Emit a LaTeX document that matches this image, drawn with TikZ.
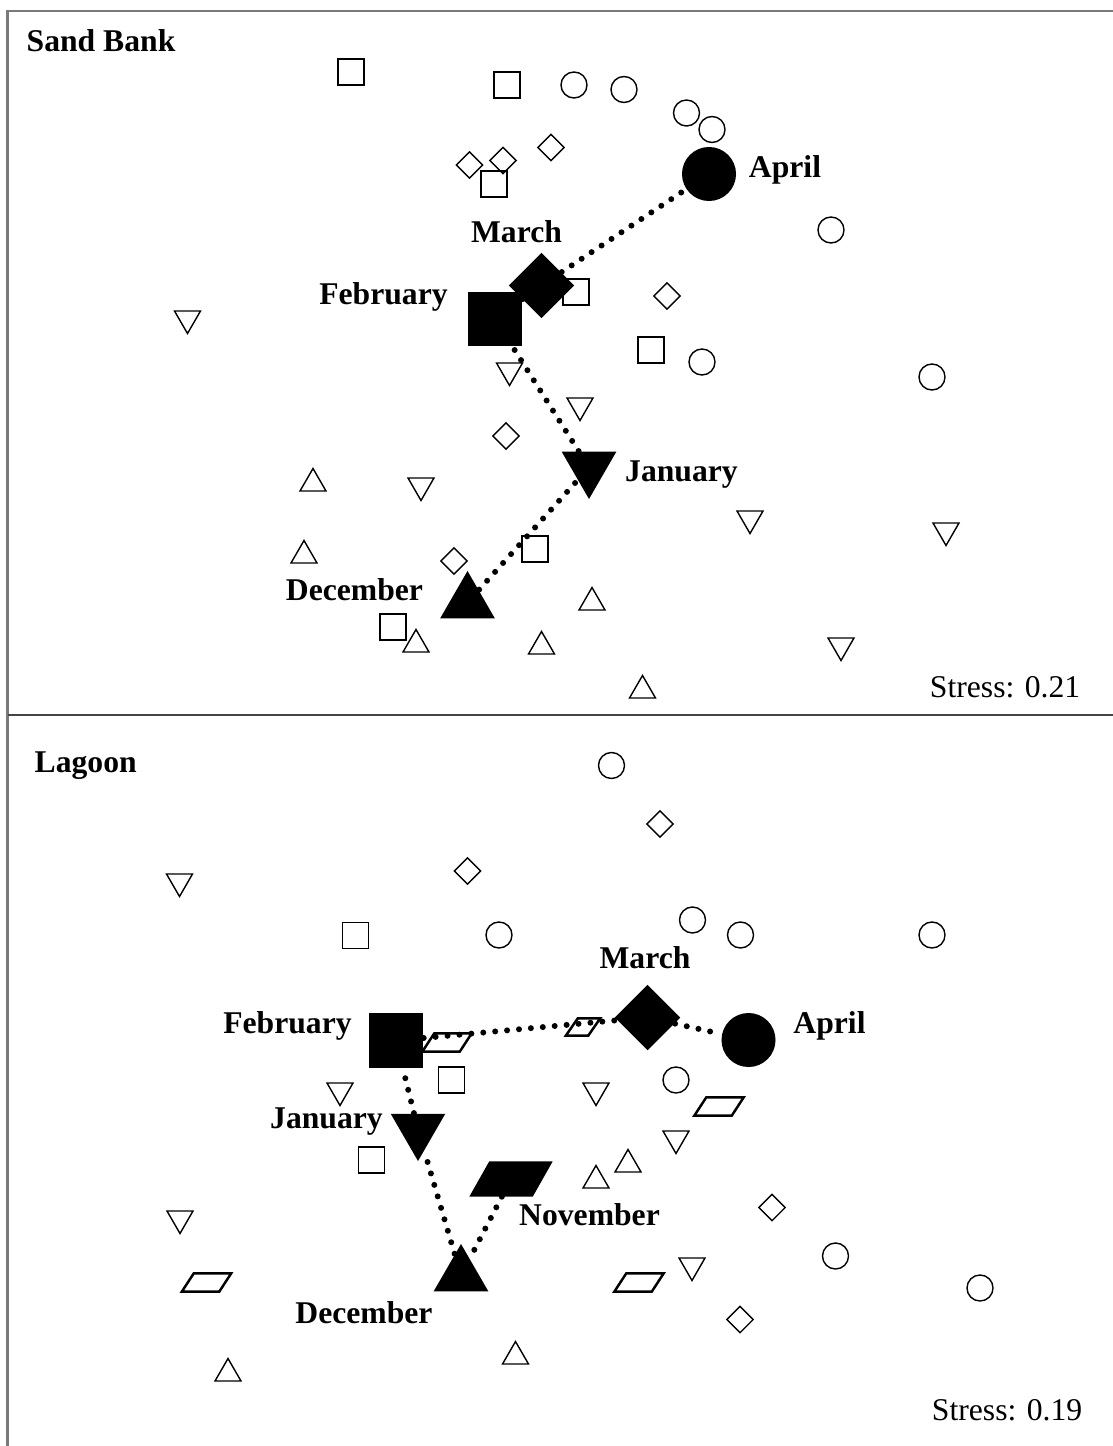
\documentclass[tikz,border=0pt]{standalone}
\usepackage{fontspec}
\setmainfont{Liberation Serif}
\usetikzlibrary{shapes.geometric}
\definecolor{framegray}{HTML}{7A7A7A}
\definecolor{rulegray}{HTML}{444444}

\begin{document}
\begin{tikzpicture}[x=0.01cm,y=-0.01cm,
  opsq/.style={rectangle,draw,line width=.4pt,minimum size=.26cm,inner sep=0pt},
  opci/.style={circle,draw,line width=.4pt,minimum size=.26cm,inner sep=0pt},
  opdi/.style={diamond,draw,line width=.4pt,minimum size=.27cm,inner sep=0pt},
  optu/.style={regular polygon,regular polygon sides=3,draw,line width=.4pt,minimum size=.30cm,inner sep=0pt},
  optd/.style={optu,shape border rotate=180},
  paral/.style 2 args={rectangle,inner sep=0pt,append after command={\pgfextra{\pgfinterruptpath
    \path[#2] (\tikzlastnode.south west) -- ([xshift=-#1]\tikzlastnode.south east)
      -- (\tikzlastnode.north east) -- ([xshift=#1]\tikzlastnode.north west) -- cycle;
    \endpgfinterruptpath}}},
  oppa/.style={paral={.12cm}{draw,line width=.7pt},minimum width=.48cm,minimum height=.17cm},
  fsq/.style={rectangle,fill=black,minimum size=.54cm,inner sep=0pt},
  fci/.style={circle,fill=black,minimum size=.54cm,inner sep=0pt},
  fdi/.style={diamond,fill=black,minimum size=.66cm,inner sep=0pt},
  ftu/.style={regular polygon,regular polygon sides=3,fill=black,minimum size=.63cm,inner sep=0pt},
  ftd/.style={ftu,shape border rotate=180},
  fpa/.style={paral={.20cm}{fill=black},minimum width=.82cm,minimum height=.34cm},
  dotline/.style={line width=1.7pt,line cap=round,dash pattern=on 0pt off 3.4pt},
  mlab/.style={font=\fontsize{9}{11}\selectfont\bfseries,inner sep=0pt,anchor=base},
  stresstxt/.style={font=\fontsize{9}{11}\selectfont,inner sep=0pt,anchor=base east}]
  \useasboundingbox (0,0) rectangle (1113,1446);
  \draw[framegray,line width=.6pt] (7.5,1446) -- (7.5,11) -- (1113,11);
  \draw[rulegray,line width=.7pt] (7.5,715) -- (1113,715);
  % Sand Bank
  \node[opsq] (ssq1) at (351,72) {};
  \node[opsq] (ssq2) at (507,85) {};
  \node[opsq] (ssq3) at (494,184) {};
  \node[opsq] (ssq4) at (576,292) {};
  \node[opsq] (ssq5) at (651,350) {};
  \node[opsq] (ssq6) at (535,549) {};
  \node[opsq] (ssq7) at (393,627) {};
  \node[opci] (sci1) at (574,85) {};
  \node[opci] (sci2) at (624,89.5) {};
  \node[opci] (sci3) at (686.5,113) {};
  \node[opci] (sci4) at (712,129.5) {};
  \node[opci] (sci5) at (831,230) {};
  \node[opci] (sci6) at (702,362) {};
  \node[opci] (sci7) at (932,377) {};
  \node[opdi] (sdi1) at (469.5,165) {};
  \node[opdi] (sdi2) at (503,160.5) {};
  \node[opdi] (sdi3) at (551,147.5) {};
  \node[opdi] (sdi4) at (667,296) {};
  \node[opdi] (sdi5) at (506,436) {};
  \node[opdi] (sdi6) at (454,561) {};
  \node[optd] (std1) at (187.5,318.5) {};
  \node[optd] (std2) at (509.5,370.5) {};
  \node[optd] (std3) at (580,405.5) {};
  \node[optd] (std4) at (421,485.5) {};
  \node[optd] (std5) at (750,518.5) {};
  \node[optd] (std6) at (946,530.5) {};
  \node[optd] (std7) at (841,645.5) {};
  \node[optu] (stu1) at (313,483.5) {};
  \node[optu] (stu2) at (304,555.5) {};
  \node[optu] (stu3) at (416,644.5) {};
  \node[optu] (stu4) at (541.5,646.5) {};
  \node[optu] (stu5) at (592,602.5) {};
  \node[optu] (stu6) at (642.5,690.5) {};
  \node[fci] (sapr) at (709,174) {};
  \node[fdi] (smar) at (541.5,285.5) {};
  \node[fsq] (sfeb) at (495,319) {};
  \node[ftd] (sjan) at (589,467.5) {};
  \node[ftu] (sdec) at (467.5,602.5) {};
  \draw[dotline] (sdec) -- (sjan);
  \draw[dotline] (sjan) -- (sfeb);
  \draw[dotline] (sfeb) -- (smar);
  \draw[dotline] (smar) -- (sapr);
  \node[mlab,anchor=base west] (stitle) at (26,52) {Sand Bank};
  \node[mlab] (saprlab) at (785,178) {April};
  \node[mlab] (smarlab) at (516.5,243) {March};
  \node[mlab] (sfeblab) at (383.5,305) {February};
  \node[mlab] (sjanlab) at (681.5,481) {January};
  \node[mlab] (sdeclab) at (354.5,600) {December};
  \node[stresstxt] (sstress) at (1081,697) {Stress: 0.21};
  % Lagoon
  \node[opsq] (lsq1) at (355.5,935.5) {};
  \node[opsq] (lsq2) at (451.5,1080) {};
  \node[opsq] (lsq3) at (371.5,1160) {};
  \node[opci] (lci1) at (611.5,765.5) {};
  \node[opci] (lci2) at (692.5,920) {};
  \node[opci] (lci3) at (740.5,935) {};
  \node[opci] (lci4) at (932,935) {};
  \node[opci] (lci5) at (499,935) {};
  \node[opci] (lci6) at (676,1080) {};
  \node[opci] (lci7) at (835.5,1256) {};
  \node[opci] (lci8) at (980,1288) {};
  \node[opdi] (ldi1) at (660,824) {};
  \node[opdi] (ldi2) at (467.5,871) {};
  \node[opdi] (ldi3) at (772,1207.5) {};
  \node[opdi] (ldi4) at (740,1319.5) {};
  \node[optd] (ltd1) at (179.5,881.5) {};
  \node[optd] (ltd2) at (340,1090.5) {};
  \node[optd] (ltd3) at (596,1090.5) {};
  \node[optd] (ltd4) at (676,1138.5) {};
  \node[optd] (ltd5) at (180,1218.5) {};
  \node[optd] (ltd6) at (692,1265.5) {};
  \node[optu] (ltu1) at (596,1180.5) {};
  \node[optu] (ltu2) at (628,1164.5) {};
  \node[optu] (ltu3) at (228,1373.5) {};
  \node[optu] (ltu4) at (515.5,1356.5) {};
  \node[oppa] (lpa1) at (447,1042.5) {};
  \node[oppa] (lpa2) at (719,1106.5) {};
  \node[oppa] (lpa3) at (206.5,1282.5) {};
  \node[oppa] (lpa4) at (639,1282.5) {};
  \node[oppa,minimum width=.33cm,minimum height=.16cm] (lpa5) at (583,1027) {};
  \node[fsq] (lfeb) at (396,1040.5) {};
  \node[fdi] (lmar) at (647.5,1017.5) {};
  \node[fci] (lapr) at (748.5,1040) {};
  \node[ftd] (ljan) at (418,1129.5) {};
  \node[ftu] (ldec) at (461,1275.5) {};
  \node[fpa] (lnov) at (511,1179) {};
  \draw[dotline] (lnov) -- (ldec);
  \draw[dotline] (ldec) -- (ljan);
  \draw[dotline] (ljan) -- (lfeb);
  \draw[dotline] (lfeb) -- (lmar);
  \draw[dotline] (lmar) -- (lapr);
  \node[mlab,anchor=base west] (ltitle) at (34,772) {Lagoon};
  \node[mlab] (lmarlab) at (645,968) {March};
  \node[mlab] (laprlab) at (829.5,1033) {April};
  \node[mlab] (lfeblab) at (287.5,1033) {February};
  \node[mlab] (ljanlab) at (326.5,1128) {January};
  \node[mlab] (lnovlab) at (589.5,1225) {November};
  \node[mlab] (ldeclab) at (364,1323) {December};
  \node[stresstxt] (lstress) at (1083,1420) {Stress: 0.19};
\end{tikzpicture}
\end{document}
